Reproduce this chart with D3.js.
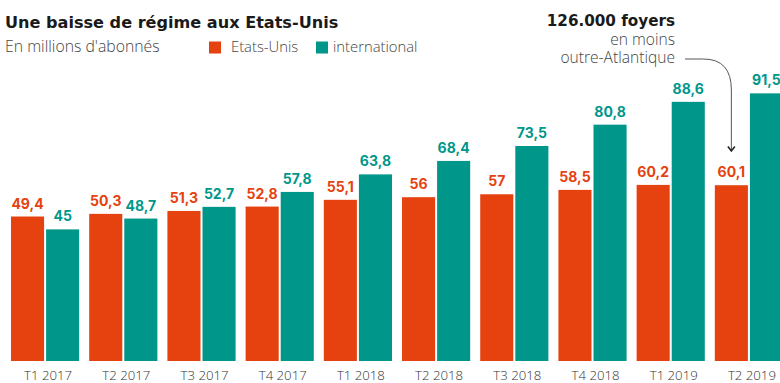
<!DOCTYPE html>
<html>
<head>
<meta charset="utf-8">
<script src="https://cdn.jsdelivr.net/npm/d3@7/dist/d3.min.js"></script>
<style>
  html, body { margin: 0; padding: 0; background: #fff; }
  svg { display: block; font-family: "Open Sans", "Noto Sans", sans-serif; }
  .val { font-family: Inter, Roboto, sans-serif; }
  .head { font-family: "DejaVu Sans", "Open Sans", sans-serif; }
</style>
</head>
<body>
<svg id="chart" width="780" height="383"></svg>
<script>
// Quarterly subscribers, in millions
const quarters = ["T1 2017", "T2 2017", "T3 2017", "T4 2017", "T1 2018", "T2 2018", "T3 2018", "T4 2018", "T1 2019", "T2 2019"];
const seriesNames = ["Etats-Unis", "international"];
const usValues = [49.4, 50.3, 51.3, 52.8, 55.1, 56, 57, 58.5, 60.2, 60.1];
const intlValues = [45, 48.7, 52.7, 57.8, 63.8, 68.4, 73.5, 80.8, 88.6, 91.5];
const seriesColors = ["#e5420f", "#00978a"];

const rows = quarters.map((q, i) => ({ quarter: q, values: [usValues[i], intlValues[i]] }));

const svg = d3.select("#chart");

const x = d3.scaleBand().domain(quarters).range([11, 783]).paddingInner(10 / 78).paddingOuter(0);
const xs = d3.scaleBand().domain(seriesNames).range([0, x.bandwidth()]).paddingInner(2 / 35);
const y = d3.scaleLinear().domain([0, 100]).range([361, 68.5]);

const fmt = v => String(v).replace(".", ",");

// Bars and value labels
const groups = svg.append("g").selectAll("g")
  .data(rows).join("g")
  .attr("transform", d => `translate(${x(d.quarter)},0)`);

groups.selectAll("rect")
  .data(d => d.values.map((v, k) => ({ name: seriesNames[k], v, k })))
  .join("rect")
  .attr("x", d => xs(d.name))
  .attr("y", d => y(d.v))
  .attr("width", xs.bandwidth())
  .attr("height", d => y(0) - y(d.v))
  .attr("fill", d => seriesColors[d.k]);

groups.selectAll("text.val")
  .data(d => d.values.map((v, k) => ({ name: seriesNames[k], v, k })))
  .join("text")
  .attr("class", "val")
  .attr("x", d => xs(d.name) + xs.bandwidth() / 2)
  .attr("y", d => y(d.v) - 8)
  .attr("text-anchor", "middle")
  .attr("font-size", 14)
  .attr("font-weight", 700)
  .attr("fill", d => seriesColors[d.k])
  .text(d => fmt(d.v));

// Category axis
const xAxis = d3.axisBottom(x).tickSize(0).tickPadding(0);
const axisG = svg.append("g").attr("transform", "translate(3,0)").call(xAxis);
axisG.select(".domain").remove();
axisG.selectAll("text")
  .attr("y", 380)
  .attr("dy", 0)
  .attr("font-size", 13.2)
  .attr("font-family", "'Open Sans', sans-serif")
  .attr("font-weight", 300)
  .attr("fill", "#333");

// Title and subtitle
svg.append("text").attr("class", "head").attr("x", 5).attr("y", 28)
  .attr("font-size", 16.1).attr("font-weight", 700).attr("fill", "#1a1a1a")
  .text("Une baisse de régime aux Etats-Unis");
svg.append("text").attr("x", 5).attr("y", 52)
  .attr("font-size", 15.8).attr("font-weight", 300).attr("fill", "#444")
  .text("En millions d'abonnés");

// Legend
const legendX = [209, 316];
const legendTextX = [231, 333];
seriesNames.forEach((name, k) => {
  svg.append("rect").attr("x", legendX[k]).attr("y", 41.5).attr("width", 12).attr("height", 12)
    .attr("fill", seriesColors[k]);
  svg.append("text").attr("x", legendTextX[k]).attr("y", 52)
    .attr("font-size", 14.8).attr("font-weight", 300).attr("fill", "#444")
    .text(name);
});

// Annotation on the last US bar
const note = svg.append("g").attr("text-anchor", "end");
note.append("text").attr("class", "head").attr("x", 675).attr("y", 26)
  .attr("font-size", 15.2).attr("font-weight", 700).attr("fill", "#1a1a1a")
  .text("126.000 foyers");
note.append("text").attr("x", 675).attr("y", 44.5)
  .attr("font-size", 15.6).attr("font-weight", 300).attr("fill", "#444")
  .text("en moins");
note.append("text").attr("x", 675).attr("y", 62.5)
  .attr("font-size", 15.6).attr("font-weight", 300).attr("fill", "#444")
  .text("outre-Atlantique");

const last = rows[rows.length - 1];
const tipX = x(last.quarter) + xs(seriesNames[0]) + xs.bandwidth() / 2;
const tipY = 151;
svg.append("path")
  .attr("d", `M685,59 L${tipX - 28},59 Q${tipX},59 ${tipX},90 L${tipX},${tipY}`)
  .attr("fill", "none").attr("stroke", "#555").attr("stroke-width", 1);
svg.append("path")
  .attr("d", `M${tipX - 3.5},${tipY - 4.5} L${tipX},${tipY} L${tipX + 3.5},${tipY - 4.5}`)
  .attr("fill", "none").attr("stroke", "#222").attr("stroke-width", 1.6);
</script>
</body>
</html>
